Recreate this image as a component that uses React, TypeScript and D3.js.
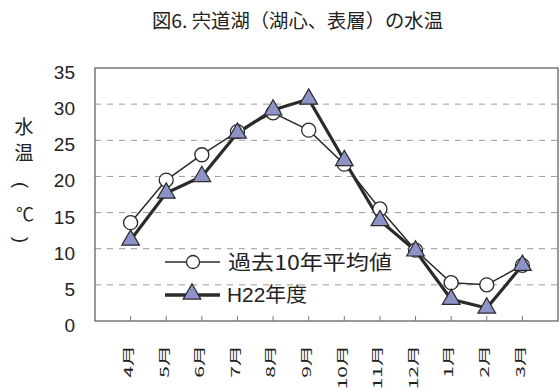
import React from "react";
import * as d3 from "d3";

const months = ["4月", "5月", "6月", "7月", "8月", "9月", "10月", "11月", "12月", "1月", "2月", "3月"];
const avg10 = [13.6, 19.5, 23.0, 26.2, 28.8, 26.4, 21.7, 15.5, 9.8, 5.3, 5.0, 7.7];
const h22 = [11.2, 17.7, 20.0, 26.0, 29.2, 30.7, 22.2, 13.9, 9.7, 3.0, 1.8, 7.7];
const yTicks = [0, 5, 10, 15, 20, 25, 30, 35];
const seriesNames = ["過去10年平均値", "H22年度"];
const titleText = "図6. 宍道湖（湖心、表層）の水温";

const FONT = "'Liberation Sans', 'Noto Sans CJK JP', sans-serif";
const CJK = "'Noto Sans CJK JP', sans-serif";

export default function App() {
  const W = 560, H = 390;
  const left = 95, right = 558, top = 68, bottom = 321;
  const x = d3.scalePoint<string>().domain(months).range([left, right]).padding(1);
  const y = d3.scaleLinear().domain([0, 35]).range([bottom, top]);
  const line = d3.line<number>().x((_, i) => x(months[i])!).y((d) => y(d));
  const tri = d3.symbol().type(d3.symbolTriangle).size(135)()!;
  const stroke = "#2a2a2a";
  const triFill = "#8c93c6";
  const txt = "#222";
  return (
    <svg width={W} height={H} style={{ position: "absolute", left: 0, top: 0, background: "#fff" }} fontFamily={FONT}>
      <rect width={W} height={H} fill="#fff" />
      <text x={152} y={28} fontSize={19} fill={txt} fontFamily={CJK} textLength={291} lengthAdjust="spacingAndGlyphs">{titleText}</text>
      {yTicks.filter((t) => t > 0 && t < 35).map((t) => (
        <line key={t} x1={left} x2={right} y1={y(t)} y2={y(t)} stroke="#9a9a9a" strokeWidth={1} strokeDasharray="6,6" />
      ))}
      <rect x={left} y={top} width={right - left} height={bottom - top} fill="none" stroke="#555" strokeWidth={1.2} />
      {months.map((m) => (
        <line key={m} x1={x(m)!} x2={x(m)!} y1={bottom} y2={bottom - 5} stroke="#777" strokeWidth={1} />
      ))}
      {yTicks.map((t) => (
        <text key={t} x={75} y={y(t) + 11} textAnchor="end" fontSize={19} fill={txt}>{t}</text>
      ))}
      <text x={24} y={134} textAnchor="middle" fontSize={19} fill={txt} fontFamily={CJK}>水</text>
      <text x={24} y={160} textAnchor="middle" fontSize={19} fill={txt} fontFamily={CJK}>温</text>
      <g transform="translate(21,185) rotate(90)">
        <text textAnchor="middle" dominantBaseline="central" fontSize={18} fill={txt}>(</text>
      </g>
      <text x={25} y={221} textAnchor="middle" fontSize={18} fill={txt} fontFamily={CJK}>℃</text>
      <g transform="translate(21,240) rotate(90)">
        <text textAnchor="middle" dominantBaseline="central" fontSize={18} fill={txt}>)</text>
      </g>
      {months.map((m) => (
        <g key={m} transform={`translate(${x(m)! - 3},345) rotate(-90) scale(1,0.58)`}>
          <text textAnchor="end" dominantBaseline="central" fontSize={21} fill={txt} fontFamily={CJK}>{m}</text>
        </g>
      ))}
      <path d={line(avg10)!} fill="none" stroke={stroke} strokeWidth={1.5} />
      <path d={line(h22)!} fill="none" stroke={stroke} strokeWidth={3.2} />
      {avg10.map((v, i) => (
        <circle key={i} cx={x(months[i])!} cy={y(v)} r={7} fill="#fff" stroke={stroke} strokeWidth={1.3} />
      ))}
      {h22.map((v, i) => (
        <path key={i} d={tri} transform={`translate(${x(months[i])!},${y(v)})`} fill={triFill} stroke={stroke} strokeWidth={1.2} />
      ))}
      <g>
        <line x1={165} x2={220} y1={262} y2={262} stroke={stroke} strokeWidth={1.5} />
        <circle cx={193} cy={262} r={6.5} fill="#fff" stroke={stroke} strokeWidth={1.3} />
        <text x={228} y={270} fontSize={20} fill={txt} fontFamily={CJK} textLength={164} lengthAdjust="spacingAndGlyphs">{seriesNames[0]}</text>
        <line x1={165} x2={220} y1={295} y2={295} stroke={stroke} strokeWidth={3.5} />
        <path d={tri} transform="translate(192,294)" fill={triFill} stroke={stroke} strokeWidth={1.2} />
        <text x={227} y={302} fontSize={20} fill={txt} textLength={80} lengthAdjust="spacingAndGlyphs">{seriesNames[1]}</text>
      </g>
    </svg>
  );
}
